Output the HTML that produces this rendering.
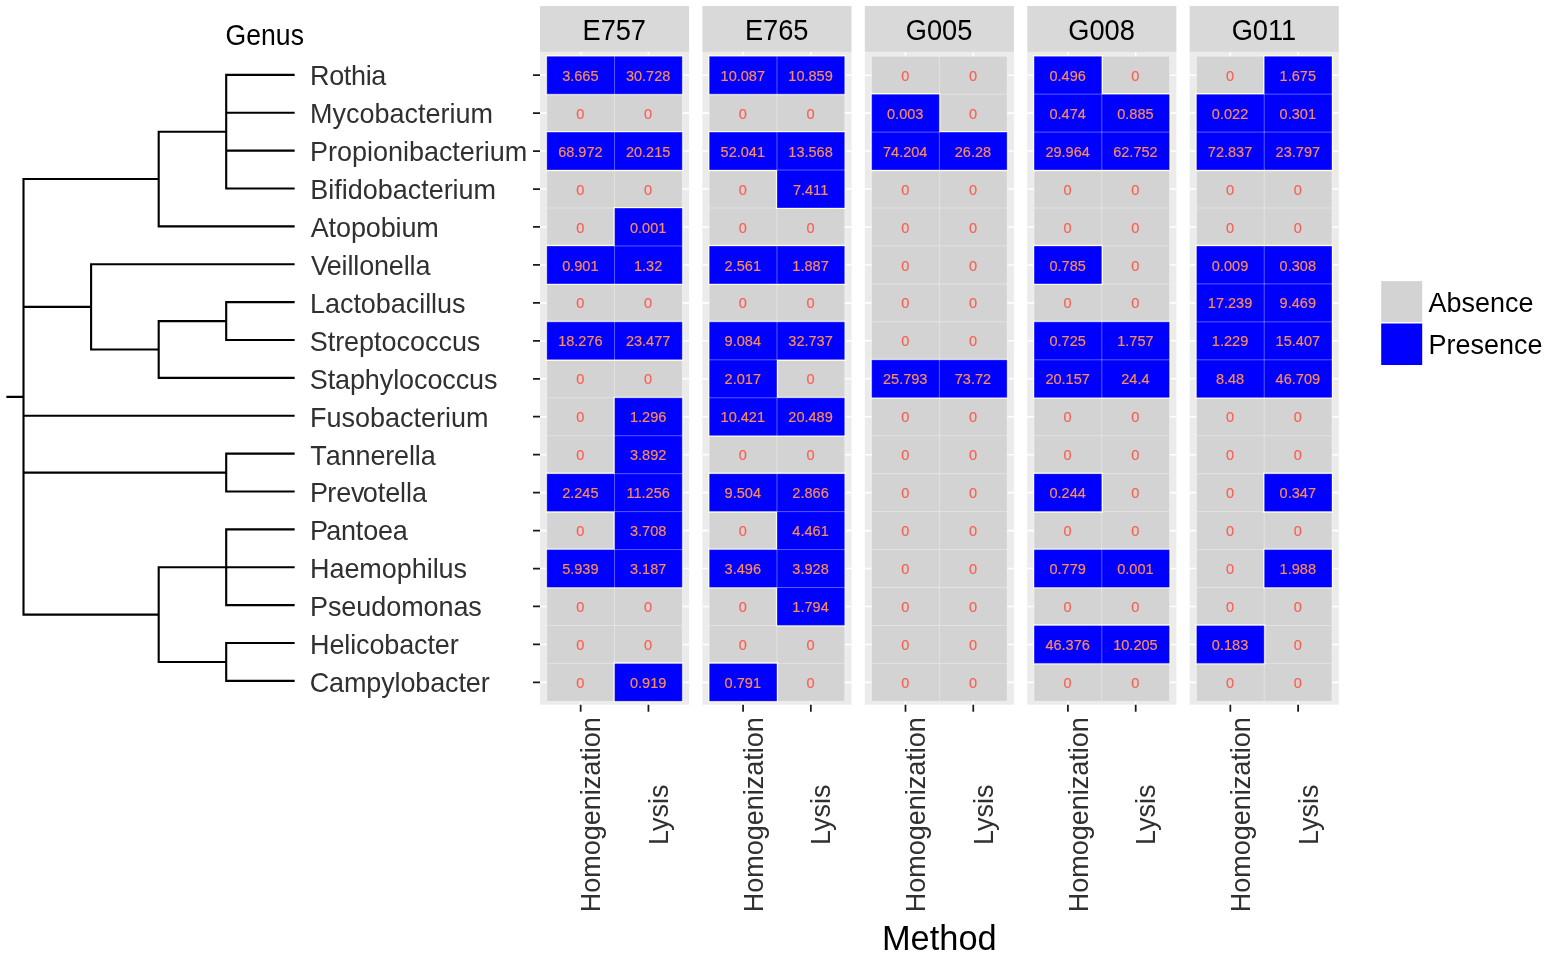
<!DOCTYPE html>
<html lang="en"><head><meta charset="utf-8"><title>Genus presence / absence by method</title>
<style>html,body{margin:0;padding:0;background:#fff}body{width:1547px;height:957px;overflow:hidden}svg{display:block}text{font-family:"Liberation Sans",Arial,Helvetica,sans-serif}.ax{font-size:27.00px;fill:#303030}.st{font-size:27.20px;fill:#000;text-anchor:middle}.tv{font-size:14.55px;fill:#fb5f50;stroke:#fb5f50;stroke-width:.18px;text-anchor:middle}.tb{fill:#ff8c5a;stroke:#ff8c5a}.lg{font-size:26.95px;fill:#000}.tt{font-size:34.40px;fill:#000;text-anchor:middle}.gn{font-size:26.60px;fill:#000}.xl{font-size:27.00px;fill:#303030;text-anchor:middle}</style></head><body>
<svg width="1547" height="957" viewBox="0 0 1547 957">
<rect width="1547" height="957" fill="#fff"/>
<path d="M226.20 74.90L226.20 188.53M226.20 74.90L293.60 74.90M226.20 112.78L293.60 112.78M226.20 150.65L293.60 150.65M226.20 188.53L293.60 188.53M158.70 131.71L226.20 131.71M158.70 226.40L293.60 226.40M158.70 131.71L158.70 226.40M23.50 179.06L158.70 179.06M226.20 302.15L226.20 340.02M226.20 302.15L293.60 302.15M226.20 340.02L293.60 340.02M158.70 321.09L226.20 321.09M158.70 377.90L293.60 377.90M158.70 321.09L158.70 377.90M91.10 264.27L293.60 264.27M91.10 349.49L158.70 349.49M91.10 264.27L91.10 349.49M23.50 306.88L91.10 306.88M23.50 415.77L293.60 415.77M226.20 453.65L226.20 491.52M226.20 453.65L293.60 453.65M226.20 491.52L293.60 491.52M23.50 472.59L226.20 472.59M226.20 529.40L226.20 605.15M226.20 529.40L293.60 529.40M226.20 567.27L293.60 567.27M226.20 605.15L293.60 605.15M226.20 643.02L226.20 680.90M226.20 643.02L293.60 643.02M226.20 680.90L293.60 680.90M158.70 567.27L226.20 567.27M158.70 661.96L226.20 661.96M158.70 567.27L158.70 661.96M23.50 614.62L158.70 614.62M23.50 179.06L23.50 614.62M7.40 396.84L23.50 396.84" fill="none" stroke="#000" stroke-width="2.10" stroke-linecap="square" stroke-linejoin="miter"/>
<text class="gn" transform="translate(225.60 45.10) scale(1 1.080)">Genus</text>
<text class="ax" transform="translate(310.00 85.04) scale(1 1.030)" letter-spacing="-0.335">Rothia</text>
<text class="ax" transform="translate(310.00 122.99) scale(1 1.030)" letter-spacing="0.004">Mycobacterium</text>
<text class="ax" transform="translate(310.00 160.94) scale(1 1.030)" letter-spacing="-0.012">Propionibacterium</text>
<text class="ax" transform="translate(310.25 198.89) scale(1 1.030)" letter-spacing="-0.011">Bifidobacterium</text>
<text class="ax" transform="translate(310.73 236.84) scale(1 1.030)" letter-spacing="-0.113">Atopobium</text>
<text class="ax" transform="translate(310.98 274.79) scale(1 1.030)" letter-spacing="-0.147">V<tspan dx="-2.10">eillonella</tspan></text>
<text class="ax" transform="translate(310.00 312.74) scale(1 1.030)" letter-spacing="-0.041">Lactobacillus</text>
<text class="ax" transform="translate(309.73 350.69) scale(1 1.030)" letter-spacing="-0.030">Streptococcus</text>
<text class="ax" transform="translate(309.73 388.64) scale(1 1.030)" letter-spacing="-0.094">Staphylococcus</text>
<text class="ax" transform="translate(310.00 426.59) scale(1 1.030)" letter-spacing="0.002">Fusobacterium</text>
<text class="ax" transform="translate(310.33 464.54) scale(1 1.030)" letter-spacing="-0.148">T<tspan dx="-0.85">annerella</tspan></text>
<text class="ax" transform="translate(310.00 502.49) scale(1 1.030)" letter-spacing="-0.076">P<tspan dx="-0.70">rev</tspan><tspan dx="-1.70">otella</tspan></text>
<text class="ax" transform="translate(310.00 540.44) scale(1 1.030)" letter-spacing="-0.181">P<tspan dx="-1.60">antoea</tspan></text>
<text class="ax" transform="translate(310.00 578.39) scale(1 1.030)" letter-spacing="-0.043">Haemophilus</text>
<text class="ax" transform="translate(310.00 616.34) scale(1 1.030)" letter-spacing="-0.064">Pseudomonas</text>
<text class="ax" transform="translate(310.00 654.29) scale(1 1.030)" letter-spacing="-0.111">Helicobacter</text>
<text class="ax" transform="translate(309.73 692.24) scale(1 1.030)" letter-spacing="-0.129">Campylobacter</text>
<g>
<rect x="540.00" y="6.00" width="149.10" height="45.90" fill="#d9d9d9"/>
<rect x="540.00" y="51.90" width="149.10" height="652.80" fill="#ebebeb"/>
<path d="M540.00 75.18H689.10M540.00 113.12H689.10M540.00 151.07H689.10M540.00 189.03H689.10M540.00 226.98H689.10M540.00 264.93H689.10M540.00 302.88H689.10M540.00 340.82H689.10M540.00 378.78H689.10M540.00 416.73H689.10M540.00 454.68H689.10M540.00 492.62H689.10M540.00 530.58H689.10M540.00 568.53H689.10M540.00 606.48H689.10M540.00 644.43H689.10M540.00 682.38H689.10M580.66 51.90V704.70M648.44 51.90V704.70" stroke="#fff" stroke-width="1.60" fill="none"/>
<path d="M533.00 75.18H540.00M533.00 113.12H540.00M533.00 151.07H540.00M533.00 189.03H540.00M533.00 226.98H540.00M533.00 264.93H540.00M533.00 302.88H540.00M533.00 340.82H540.00M533.00 378.78H540.00M533.00 416.73H540.00M533.00 454.68H540.00M533.00 492.62H540.00M533.00 530.58H540.00M533.00 568.53H540.00M533.00 606.48H540.00M533.00 644.43H540.00M533.00 682.38H540.00M580.66 704.70V711.70M648.44 704.70V711.70" stroke="#1a1a1a" stroke-width="1.75" fill="none"/>
<text class="st" transform="translate(614.25 39.50) scale(1 1.060)">E757</text>
<path d="M546.78 94.15h67.77v37.95h-67.77zM614.55 94.15h67.77v37.95h-67.77zM546.78 170.05h67.77v37.95h-67.77zM614.55 170.05h67.77v37.95h-67.77zM546.78 208.00h67.77v37.95h-67.77zM546.78 283.90h67.77v37.95h-67.77zM614.55 283.90h67.77v37.95h-67.77zM546.78 359.80h67.77v37.95h-67.77zM614.55 359.80h67.77v37.95h-67.77zM546.78 397.75h67.77v37.95h-67.77zM546.78 435.70h67.77v37.95h-67.77zM546.78 511.60h67.77v37.95h-67.77zM546.78 587.50h67.77v37.95h-67.77zM614.55 587.50h67.77v37.95h-67.77zM546.78 625.45h67.77v37.95h-67.77zM614.55 625.45h67.77v37.95h-67.77zM546.78 663.40h67.77v37.95h-67.77z" fill="#d3d3d3"/>
<path d="M545.68 55.10h69.97v40.15h-69.97zM613.45 55.10h69.97v40.15h-69.97zM545.68 131.00h69.97v40.15h-69.97zM613.45 131.00h69.97v40.15h-69.97zM613.45 206.90h69.97v40.15h-69.97zM545.68 244.85h69.97v40.15h-69.97zM613.45 244.85h69.97v40.15h-69.97zM545.68 320.75h69.97v40.15h-69.97zM613.45 320.75h69.97v40.15h-69.97zM613.45 396.65h69.97v40.15h-69.97zM613.45 434.60h69.97v40.15h-69.97zM545.68 472.55h69.97v40.15h-69.97zM613.45 472.55h69.97v40.15h-69.97zM613.45 510.50h69.97v40.15h-69.97zM545.68 548.45h69.97v40.15h-69.97zM613.45 548.45h69.97v40.15h-69.97zM613.45 662.30h69.97v40.15h-69.97z" fill="#ffffe0"/>
<path d="M546.78 56.20h67.77v37.95h-67.77zM614.55 56.20h67.77v37.95h-67.77zM546.78 132.10h67.77v37.95h-67.77zM614.55 132.10h67.77v37.95h-67.77zM614.55 208.00h67.77v37.95h-67.77zM546.78 245.95h67.77v37.95h-67.77zM614.55 245.95h67.77v37.95h-67.77zM546.78 321.85h67.77v37.95h-67.77zM614.55 321.85h67.77v37.95h-67.77zM614.55 397.75h67.77v37.95h-67.77zM614.55 435.70h67.77v37.95h-67.77zM546.78 473.65h67.77v37.95h-67.77zM614.55 473.65h67.77v37.95h-67.77zM614.55 511.60h67.77v37.95h-67.77zM546.78 549.55h67.77v37.95h-67.77zM614.55 549.55h67.77v37.95h-67.77zM614.55 663.40h67.77v37.95h-67.77z" fill="#0000ff"/>
<path d="M546.78 56.20H682.32M546.78 94.15H682.32M546.78 132.10H682.32M546.78 170.05H682.32M546.78 208.00H682.32M546.78 245.95H682.32M546.78 283.90H682.32M546.78 321.85H682.32M546.78 359.80H682.32M546.78 397.75H682.32M546.78 435.70H682.32M546.78 473.65H682.32M546.78 511.60H682.32M546.78 549.55H682.32M546.78 587.50H682.32M546.78 625.45H682.32M546.78 663.40H682.32M546.78 701.35H682.32M546.78 56.20V701.35M614.55 56.20V701.35M682.32 56.20V701.35" stroke="#fff" stroke-opacity="0.35" stroke-width="1.00" fill="none"/>
<text class="tv tb" transform="translate(580.36 80.78) scale(1 1.050)">3.665</text>
<text class="tv tb" transform="translate(648.14 80.78) scale(1 1.050)">30.728</text>
<text class="tv" transform="translate(580.36 118.73) scale(1 1.050)">0</text>
<text class="tv" transform="translate(648.14 118.73) scale(1 1.050)">0</text>
<text class="tv tb" transform="translate(580.36 156.68) scale(1 1.050)">68.972</text>
<text class="tv tb" transform="translate(648.14 156.68) scale(1 1.050)">20.215</text>
<text class="tv" transform="translate(580.36 194.63) scale(1 1.050)">0</text>
<text class="tv" transform="translate(648.14 194.63) scale(1 1.050)">0</text>
<text class="tv" transform="translate(580.36 232.58) scale(1 1.050)">0</text>
<text class="tv tb" transform="translate(648.14 232.58) scale(1 1.050)">0.001</text>
<text class="tv tb" transform="translate(580.36 270.53) scale(1 1.050)">0.901</text>
<text class="tv tb" transform="translate(648.14 270.53) scale(1 1.050)">1.32</text>
<text class="tv" transform="translate(580.36 308.48) scale(1 1.050)">0</text>
<text class="tv" transform="translate(648.14 308.48) scale(1 1.050)">0</text>
<text class="tv tb" transform="translate(580.36 346.43) scale(1 1.050)">18.276</text>
<text class="tv tb" transform="translate(648.14 346.43) scale(1 1.050)">23.477</text>
<text class="tv" transform="translate(580.36 384.38) scale(1 1.050)">0</text>
<text class="tv" transform="translate(648.14 384.38) scale(1 1.050)">0</text>
<text class="tv" transform="translate(580.36 422.33) scale(1 1.050)">0</text>
<text class="tv tb" transform="translate(648.14 422.33) scale(1 1.050)">1.296</text>
<text class="tv" transform="translate(580.36 460.28) scale(1 1.050)">0</text>
<text class="tv tb" transform="translate(648.14 460.28) scale(1 1.050)">3.892</text>
<text class="tv tb" transform="translate(580.36 498.23) scale(1 1.050)">2.245</text>
<text class="tv tb" transform="translate(648.14 498.23) scale(1 1.050)">11.256</text>
<text class="tv" transform="translate(580.36 536.18) scale(1 1.050)">0</text>
<text class="tv tb" transform="translate(648.14 536.18) scale(1 1.050)">3.708</text>
<text class="tv tb" transform="translate(580.36 574.13) scale(1 1.050)">5.939</text>
<text class="tv tb" transform="translate(648.14 574.13) scale(1 1.050)">3.187</text>
<text class="tv" transform="translate(580.36 612.08) scale(1 1.050)">0</text>
<text class="tv" transform="translate(648.14 612.08) scale(1 1.050)">0</text>
<text class="tv" transform="translate(580.36 650.03) scale(1 1.050)">0</text>
<text class="tv" transform="translate(648.14 650.03) scale(1 1.050)">0</text>
<text class="tv" transform="translate(580.36 687.98) scale(1 1.050)">0</text>
<text class="tv tb" transform="translate(648.14 687.98) scale(1 1.050)">0.919</text>
<text class="xl" transform="translate(600.26 814.80) rotate(-90) scale(1 1.030)">Homogenization</text>
<text class="xl" transform="translate(668.04 814.80) rotate(-90) scale(1 1.030)">Lysis</text>
</g>
<g>
<rect x="702.42" y="6.00" width="149.10" height="45.90" fill="#d9d9d9"/>
<rect x="702.42" y="51.90" width="149.10" height="652.80" fill="#ebebeb"/>
<path d="M702.42 75.18H851.52M702.42 113.12H851.52M702.42 151.07H851.52M702.42 189.03H851.52M702.42 226.98H851.52M702.42 264.93H851.52M702.42 302.88H851.52M702.42 340.82H851.52M702.42 378.78H851.52M702.42 416.73H851.52M702.42 454.68H851.52M702.42 492.62H851.52M702.42 530.58H851.52M702.42 568.53H851.52M702.42 606.48H851.52M702.42 644.43H851.52M702.42 682.38H851.52M743.08 51.90V704.70M810.86 51.90V704.70" stroke="#fff" stroke-width="1.60" fill="none"/>
<path d="M743.08 704.70V711.70M810.86 704.70V711.70" stroke="#1a1a1a" stroke-width="1.75" fill="none"/>
<text class="st" transform="translate(776.67 39.50) scale(1 1.060)">E765</text>
<path d="M709.20 94.15h67.77v37.95h-67.77zM776.97 94.15h67.77v37.95h-67.77zM709.20 170.05h67.77v37.95h-67.77zM709.20 208.00h67.77v37.95h-67.77zM776.97 208.00h67.77v37.95h-67.77zM709.20 283.90h67.77v37.95h-67.77zM776.97 283.90h67.77v37.95h-67.77zM776.97 359.80h67.77v37.95h-67.77zM709.20 435.70h67.77v37.95h-67.77zM776.97 435.70h67.77v37.95h-67.77zM709.20 511.60h67.77v37.95h-67.77zM709.20 587.50h67.77v37.95h-67.77zM709.20 625.45h67.77v37.95h-67.77zM776.97 625.45h67.77v37.95h-67.77zM776.97 663.40h67.77v37.95h-67.77z" fill="#d3d3d3"/>
<path d="M708.10 55.10h69.97v40.15h-69.97zM775.87 55.10h69.97v40.15h-69.97zM708.10 131.00h69.97v40.15h-69.97zM775.87 131.00h69.97v40.15h-69.97zM775.87 168.95h69.97v40.15h-69.97zM708.10 244.85h69.97v40.15h-69.97zM775.87 244.85h69.97v40.15h-69.97zM708.10 320.75h69.97v40.15h-69.97zM775.87 320.75h69.97v40.15h-69.97zM708.10 358.70h69.97v40.15h-69.97zM708.10 396.65h69.97v40.15h-69.97zM775.87 396.65h69.97v40.15h-69.97zM708.10 472.55h69.97v40.15h-69.97zM775.87 472.55h69.97v40.15h-69.97zM775.87 510.50h69.97v40.15h-69.97zM708.10 548.45h69.97v40.15h-69.97zM775.87 548.45h69.97v40.15h-69.97zM775.87 586.40h69.97v40.15h-69.97zM708.10 662.30h69.97v40.15h-69.97z" fill="#ffffe0"/>
<path d="M709.20 56.20h67.77v37.95h-67.77zM776.97 56.20h67.77v37.95h-67.77zM709.20 132.10h67.77v37.95h-67.77zM776.97 132.10h67.77v37.95h-67.77zM776.97 170.05h67.77v37.95h-67.77zM709.20 245.95h67.77v37.95h-67.77zM776.97 245.95h67.77v37.95h-67.77zM709.20 321.85h67.77v37.95h-67.77zM776.97 321.85h67.77v37.95h-67.77zM709.20 359.80h67.77v37.95h-67.77zM709.20 397.75h67.77v37.95h-67.77zM776.97 397.75h67.77v37.95h-67.77zM709.20 473.65h67.77v37.95h-67.77zM776.97 473.65h67.77v37.95h-67.77zM776.97 511.60h67.77v37.95h-67.77zM709.20 549.55h67.77v37.95h-67.77zM776.97 549.55h67.77v37.95h-67.77zM776.97 587.50h67.77v37.95h-67.77zM709.20 663.40h67.77v37.95h-67.77z" fill="#0000ff"/>
<path d="M709.20 56.20H844.74M709.20 94.15H844.74M709.20 132.10H844.74M709.20 170.05H844.74M709.20 208.00H844.74M709.20 245.95H844.74M709.20 283.90H844.74M709.20 321.85H844.74M709.20 359.80H844.74M709.20 397.75H844.74M709.20 435.70H844.74M709.20 473.65H844.74M709.20 511.60H844.74M709.20 549.55H844.74M709.20 587.50H844.74M709.20 625.45H844.74M709.20 663.40H844.74M709.20 701.35H844.74M709.20 56.20V701.35M776.97 56.20V701.35M844.74 56.20V701.35" stroke="#fff" stroke-opacity="0.35" stroke-width="1.00" fill="none"/>
<text class="tv tb" transform="translate(742.78 80.78) scale(1 1.050)">10.087</text>
<text class="tv tb" transform="translate(810.56 80.78) scale(1 1.050)">10.859</text>
<text class="tv" transform="translate(742.78 118.73) scale(1 1.050)">0</text>
<text class="tv" transform="translate(810.56 118.73) scale(1 1.050)">0</text>
<text class="tv tb" transform="translate(742.78 156.68) scale(1 1.050)">52.041</text>
<text class="tv tb" transform="translate(810.56 156.68) scale(1 1.050)">13.568</text>
<text class="tv" transform="translate(742.78 194.63) scale(1 1.050)">0</text>
<text class="tv tb" transform="translate(810.56 194.63) scale(1 1.050)">7.411</text>
<text class="tv" transform="translate(742.78 232.58) scale(1 1.050)">0</text>
<text class="tv" transform="translate(810.56 232.58) scale(1 1.050)">0</text>
<text class="tv tb" transform="translate(742.78 270.53) scale(1 1.050)">2.561</text>
<text class="tv tb" transform="translate(810.56 270.53) scale(1 1.050)">1.887</text>
<text class="tv" transform="translate(742.78 308.48) scale(1 1.050)">0</text>
<text class="tv" transform="translate(810.56 308.48) scale(1 1.050)">0</text>
<text class="tv tb" transform="translate(742.78 346.43) scale(1 1.050)">9.084</text>
<text class="tv tb" transform="translate(810.56 346.43) scale(1 1.050)">32.737</text>
<text class="tv tb" transform="translate(742.78 384.38) scale(1 1.050)">2.017</text>
<text class="tv" transform="translate(810.56 384.38) scale(1 1.050)">0</text>
<text class="tv tb" transform="translate(742.78 422.33) scale(1 1.050)">10.421</text>
<text class="tv tb" transform="translate(810.56 422.33) scale(1 1.050)">20.489</text>
<text class="tv" transform="translate(742.78 460.28) scale(1 1.050)">0</text>
<text class="tv" transform="translate(810.56 460.28) scale(1 1.050)">0</text>
<text class="tv tb" transform="translate(742.78 498.23) scale(1 1.050)">9.504</text>
<text class="tv tb" transform="translate(810.56 498.23) scale(1 1.050)">2.866</text>
<text class="tv" transform="translate(742.78 536.18) scale(1 1.050)">0</text>
<text class="tv tb" transform="translate(810.56 536.18) scale(1 1.050)">4.461</text>
<text class="tv tb" transform="translate(742.78 574.13) scale(1 1.050)">3.496</text>
<text class="tv tb" transform="translate(810.56 574.13) scale(1 1.050)">3.928</text>
<text class="tv" transform="translate(742.78 612.08) scale(1 1.050)">0</text>
<text class="tv tb" transform="translate(810.56 612.08) scale(1 1.050)">1.794</text>
<text class="tv" transform="translate(742.78 650.03) scale(1 1.050)">0</text>
<text class="tv" transform="translate(810.56 650.03) scale(1 1.050)">0</text>
<text class="tv tb" transform="translate(742.78 687.98) scale(1 1.050)">0.791</text>
<text class="tv" transform="translate(810.56 687.98) scale(1 1.050)">0</text>
<text class="xl" transform="translate(762.68 814.80) rotate(-90) scale(1 1.030)">Homogenization</text>
<text class="xl" transform="translate(830.46 814.80) rotate(-90) scale(1 1.030)">Lysis</text>
</g>
<g>
<rect x="864.84" y="6.00" width="149.10" height="45.90" fill="#d9d9d9"/>
<rect x="864.84" y="51.90" width="149.10" height="652.80" fill="#ebebeb"/>
<path d="M864.84 75.18H1013.94M864.84 113.12H1013.94M864.84 151.07H1013.94M864.84 189.03H1013.94M864.84 226.98H1013.94M864.84 264.93H1013.94M864.84 302.88H1013.94M864.84 340.82H1013.94M864.84 378.78H1013.94M864.84 416.73H1013.94M864.84 454.68H1013.94M864.84 492.62H1013.94M864.84 530.58H1013.94M864.84 568.53H1013.94M864.84 606.48H1013.94M864.84 644.43H1013.94M864.84 682.38H1013.94M905.50 51.90V704.70M973.28 51.90V704.70" stroke="#fff" stroke-width="1.60" fill="none"/>
<path d="M905.50 704.70V711.70M973.28 704.70V711.70" stroke="#1a1a1a" stroke-width="1.75" fill="none"/>
<text class="st" transform="translate(939.09 39.50) scale(1 1.060)">G005</text>
<path d="M871.62 56.20h67.77v37.95h-67.77zM939.39 56.20h67.77v37.95h-67.77zM939.39 94.15h67.77v37.95h-67.77zM871.62 170.05h67.77v37.95h-67.77zM939.39 170.05h67.77v37.95h-67.77zM871.62 208.00h67.77v37.95h-67.77zM939.39 208.00h67.77v37.95h-67.77zM871.62 245.95h67.77v37.95h-67.77zM939.39 245.95h67.77v37.95h-67.77zM871.62 283.90h67.77v37.95h-67.77zM939.39 283.90h67.77v37.95h-67.77zM871.62 321.85h67.77v37.95h-67.77zM939.39 321.85h67.77v37.95h-67.77zM871.62 397.75h67.77v37.95h-67.77zM939.39 397.75h67.77v37.95h-67.77zM871.62 435.70h67.77v37.95h-67.77zM939.39 435.70h67.77v37.95h-67.77zM871.62 473.65h67.77v37.95h-67.77zM939.39 473.65h67.77v37.95h-67.77zM871.62 511.60h67.77v37.95h-67.77zM939.39 511.60h67.77v37.95h-67.77zM871.62 549.55h67.77v37.95h-67.77zM939.39 549.55h67.77v37.95h-67.77zM871.62 587.50h67.77v37.95h-67.77zM939.39 587.50h67.77v37.95h-67.77zM871.62 625.45h67.77v37.95h-67.77zM939.39 625.45h67.77v37.95h-67.77zM871.62 663.40h67.77v37.95h-67.77zM939.39 663.40h67.77v37.95h-67.77z" fill="#d3d3d3"/>
<path d="M870.52 93.05h69.97v40.15h-69.97zM870.52 131.00h69.97v40.15h-69.97zM938.29 131.00h69.97v40.15h-69.97zM870.52 358.70h69.97v40.15h-69.97zM938.29 358.70h69.97v40.15h-69.97z" fill="#ffffe0"/>
<path d="M871.62 94.15h67.77v37.95h-67.77zM871.62 132.10h67.77v37.95h-67.77zM939.39 132.10h67.77v37.95h-67.77zM871.62 359.80h67.77v37.95h-67.77zM939.39 359.80h67.77v37.95h-67.77z" fill="#0000ff"/>
<path d="M871.62 56.20H1007.16M871.62 94.15H1007.16M871.62 132.10H1007.16M871.62 170.05H1007.16M871.62 208.00H1007.16M871.62 245.95H1007.16M871.62 283.90H1007.16M871.62 321.85H1007.16M871.62 359.80H1007.16M871.62 397.75H1007.16M871.62 435.70H1007.16M871.62 473.65H1007.16M871.62 511.60H1007.16M871.62 549.55H1007.16M871.62 587.50H1007.16M871.62 625.45H1007.16M871.62 663.40H1007.16M871.62 701.35H1007.16M871.62 56.20V701.35M939.39 56.20V701.35M1007.16 56.20V701.35" stroke="#fff" stroke-opacity="0.35" stroke-width="1.00" fill="none"/>
<text class="tv" transform="translate(905.20 80.78) scale(1 1.050)">0</text>
<text class="tv" transform="translate(972.98 80.78) scale(1 1.050)">0</text>
<text class="tv tb" transform="translate(905.20 118.73) scale(1 1.050)">0.003</text>
<text class="tv" transform="translate(972.98 118.73) scale(1 1.050)">0</text>
<text class="tv tb" transform="translate(905.20 156.68) scale(1 1.050)">74.204</text>
<text class="tv tb" transform="translate(972.98 156.68) scale(1 1.050)">26.28</text>
<text class="tv" transform="translate(905.20 194.63) scale(1 1.050)">0</text>
<text class="tv" transform="translate(972.98 194.63) scale(1 1.050)">0</text>
<text class="tv" transform="translate(905.20 232.58) scale(1 1.050)">0</text>
<text class="tv" transform="translate(972.98 232.58) scale(1 1.050)">0</text>
<text class="tv" transform="translate(905.20 270.53) scale(1 1.050)">0</text>
<text class="tv" transform="translate(972.98 270.53) scale(1 1.050)">0</text>
<text class="tv" transform="translate(905.20 308.48) scale(1 1.050)">0</text>
<text class="tv" transform="translate(972.98 308.48) scale(1 1.050)">0</text>
<text class="tv" transform="translate(905.20 346.43) scale(1 1.050)">0</text>
<text class="tv" transform="translate(972.98 346.43) scale(1 1.050)">0</text>
<text class="tv tb" transform="translate(905.20 384.38) scale(1 1.050)">25.793</text>
<text class="tv tb" transform="translate(972.98 384.38) scale(1 1.050)">73.72</text>
<text class="tv" transform="translate(905.20 422.33) scale(1 1.050)">0</text>
<text class="tv" transform="translate(972.98 422.33) scale(1 1.050)">0</text>
<text class="tv" transform="translate(905.20 460.28) scale(1 1.050)">0</text>
<text class="tv" transform="translate(972.98 460.28) scale(1 1.050)">0</text>
<text class="tv" transform="translate(905.20 498.23) scale(1 1.050)">0</text>
<text class="tv" transform="translate(972.98 498.23) scale(1 1.050)">0</text>
<text class="tv" transform="translate(905.20 536.18) scale(1 1.050)">0</text>
<text class="tv" transform="translate(972.98 536.18) scale(1 1.050)">0</text>
<text class="tv" transform="translate(905.20 574.13) scale(1 1.050)">0</text>
<text class="tv" transform="translate(972.98 574.13) scale(1 1.050)">0</text>
<text class="tv" transform="translate(905.20 612.08) scale(1 1.050)">0</text>
<text class="tv" transform="translate(972.98 612.08) scale(1 1.050)">0</text>
<text class="tv" transform="translate(905.20 650.03) scale(1 1.050)">0</text>
<text class="tv" transform="translate(972.98 650.03) scale(1 1.050)">0</text>
<text class="tv" transform="translate(905.20 687.98) scale(1 1.050)">0</text>
<text class="tv" transform="translate(972.98 687.98) scale(1 1.050)">0</text>
<text class="xl" transform="translate(925.10 814.80) rotate(-90) scale(1 1.030)">Homogenization</text>
<text class="xl" transform="translate(992.88 814.80) rotate(-90) scale(1 1.030)">Lysis</text>
</g>
<g>
<rect x="1027.26" y="6.00" width="149.10" height="45.90" fill="#d9d9d9"/>
<rect x="1027.26" y="51.90" width="149.10" height="652.80" fill="#ebebeb"/>
<path d="M1027.26 75.18H1176.36M1027.26 113.12H1176.36M1027.26 151.07H1176.36M1027.26 189.03H1176.36M1027.26 226.98H1176.36M1027.26 264.93H1176.36M1027.26 302.88H1176.36M1027.26 340.82H1176.36M1027.26 378.78H1176.36M1027.26 416.73H1176.36M1027.26 454.68H1176.36M1027.26 492.62H1176.36M1027.26 530.58H1176.36M1027.26 568.53H1176.36M1027.26 606.48H1176.36M1027.26 644.43H1176.36M1027.26 682.38H1176.36M1067.92 51.90V704.70M1135.70 51.90V704.70" stroke="#fff" stroke-width="1.60" fill="none"/>
<path d="M1067.92 704.70V711.70M1135.70 704.70V711.70" stroke="#1a1a1a" stroke-width="1.75" fill="none"/>
<text class="st" transform="translate(1101.51 39.50) scale(1 1.060)">G008</text>
<path d="M1101.81 56.20h67.77v37.95h-67.77zM1034.04 170.05h67.77v37.95h-67.77zM1101.81 170.05h67.77v37.95h-67.77zM1034.04 208.00h67.77v37.95h-67.77zM1101.81 208.00h67.77v37.95h-67.77zM1101.81 245.95h67.77v37.95h-67.77zM1034.04 283.90h67.77v37.95h-67.77zM1101.81 283.90h67.77v37.95h-67.77zM1034.04 397.75h67.77v37.95h-67.77zM1101.81 397.75h67.77v37.95h-67.77zM1034.04 435.70h67.77v37.95h-67.77zM1101.81 435.70h67.77v37.95h-67.77zM1101.81 473.65h67.77v37.95h-67.77zM1034.04 511.60h67.77v37.95h-67.77zM1101.81 511.60h67.77v37.95h-67.77zM1034.04 587.50h67.77v37.95h-67.77zM1101.81 587.50h67.77v37.95h-67.77zM1034.04 663.40h67.77v37.95h-67.77zM1101.81 663.40h67.77v37.95h-67.77z" fill="#d3d3d3"/>
<path d="M1032.94 55.10h69.97v40.15h-69.97zM1032.94 93.05h69.97v40.15h-69.97zM1100.71 93.05h69.97v40.15h-69.97zM1032.94 131.00h69.97v40.15h-69.97zM1100.71 131.00h69.97v40.15h-69.97zM1032.94 244.85h69.97v40.15h-69.97zM1032.94 320.75h69.97v40.15h-69.97zM1100.71 320.75h69.97v40.15h-69.97zM1032.94 358.70h69.97v40.15h-69.97zM1100.71 358.70h69.97v40.15h-69.97zM1032.94 472.55h69.97v40.15h-69.97zM1032.94 548.45h69.97v40.15h-69.97zM1100.71 548.45h69.97v40.15h-69.97zM1032.94 624.35h69.97v40.15h-69.97zM1100.71 624.35h69.97v40.15h-69.97z" fill="#ffffe0"/>
<path d="M1034.04 56.20h67.77v37.95h-67.77zM1034.04 94.15h67.77v37.95h-67.77zM1101.81 94.15h67.77v37.95h-67.77zM1034.04 132.10h67.77v37.95h-67.77zM1101.81 132.10h67.77v37.95h-67.77zM1034.04 245.95h67.77v37.95h-67.77zM1034.04 321.85h67.77v37.95h-67.77zM1101.81 321.85h67.77v37.95h-67.77zM1034.04 359.80h67.77v37.95h-67.77zM1101.81 359.80h67.77v37.95h-67.77zM1034.04 473.65h67.77v37.95h-67.77zM1034.04 549.55h67.77v37.95h-67.77zM1101.81 549.55h67.77v37.95h-67.77zM1034.04 625.45h67.77v37.95h-67.77zM1101.81 625.45h67.77v37.95h-67.77z" fill="#0000ff"/>
<path d="M1034.04 56.20H1169.58M1034.04 94.15H1169.58M1034.04 132.10H1169.58M1034.04 170.05H1169.58M1034.04 208.00H1169.58M1034.04 245.95H1169.58M1034.04 283.90H1169.58M1034.04 321.85H1169.58M1034.04 359.80H1169.58M1034.04 397.75H1169.58M1034.04 435.70H1169.58M1034.04 473.65H1169.58M1034.04 511.60H1169.58M1034.04 549.55H1169.58M1034.04 587.50H1169.58M1034.04 625.45H1169.58M1034.04 663.40H1169.58M1034.04 701.35H1169.58M1034.04 56.20V701.35M1101.81 56.20V701.35M1169.58 56.20V701.35" stroke="#fff" stroke-opacity="0.35" stroke-width="1.00" fill="none"/>
<text class="tv tb" transform="translate(1067.62 80.78) scale(1 1.050)">0.496</text>
<text class="tv" transform="translate(1135.40 80.78) scale(1 1.050)">0</text>
<text class="tv tb" transform="translate(1067.62 118.73) scale(1 1.050)">0.474</text>
<text class="tv tb" transform="translate(1135.40 118.73) scale(1 1.050)">0.885</text>
<text class="tv tb" transform="translate(1067.62 156.68) scale(1 1.050)">29.964</text>
<text class="tv tb" transform="translate(1135.40 156.68) scale(1 1.050)">62.752</text>
<text class="tv" transform="translate(1067.62 194.63) scale(1 1.050)">0</text>
<text class="tv" transform="translate(1135.40 194.63) scale(1 1.050)">0</text>
<text class="tv" transform="translate(1067.62 232.58) scale(1 1.050)">0</text>
<text class="tv" transform="translate(1135.40 232.58) scale(1 1.050)">0</text>
<text class="tv tb" transform="translate(1067.62 270.53) scale(1 1.050)">0.785</text>
<text class="tv" transform="translate(1135.40 270.53) scale(1 1.050)">0</text>
<text class="tv" transform="translate(1067.62 308.48) scale(1 1.050)">0</text>
<text class="tv" transform="translate(1135.40 308.48) scale(1 1.050)">0</text>
<text class="tv tb" transform="translate(1067.62 346.43) scale(1 1.050)">0.725</text>
<text class="tv tb" transform="translate(1135.40 346.43) scale(1 1.050)">1.757</text>
<text class="tv tb" transform="translate(1067.62 384.38) scale(1 1.050)">20.157</text>
<text class="tv tb" transform="translate(1135.40 384.38) scale(1 1.050)">24.4</text>
<text class="tv" transform="translate(1067.62 422.33) scale(1 1.050)">0</text>
<text class="tv" transform="translate(1135.40 422.33) scale(1 1.050)">0</text>
<text class="tv" transform="translate(1067.62 460.28) scale(1 1.050)">0</text>
<text class="tv" transform="translate(1135.40 460.28) scale(1 1.050)">0</text>
<text class="tv tb" transform="translate(1067.62 498.23) scale(1 1.050)">0.244</text>
<text class="tv" transform="translate(1135.40 498.23) scale(1 1.050)">0</text>
<text class="tv" transform="translate(1067.62 536.18) scale(1 1.050)">0</text>
<text class="tv" transform="translate(1135.40 536.18) scale(1 1.050)">0</text>
<text class="tv tb" transform="translate(1067.62 574.13) scale(1 1.050)">0.779</text>
<text class="tv tb" transform="translate(1135.40 574.13) scale(1 1.050)">0.001</text>
<text class="tv" transform="translate(1067.62 612.08) scale(1 1.050)">0</text>
<text class="tv" transform="translate(1135.40 612.08) scale(1 1.050)">0</text>
<text class="tv tb" transform="translate(1067.62 650.03) scale(1 1.050)">46.376</text>
<text class="tv tb" transform="translate(1135.40 650.03) scale(1 1.050)">10.205</text>
<text class="tv" transform="translate(1067.62 687.98) scale(1 1.050)">0</text>
<text class="tv" transform="translate(1135.40 687.98) scale(1 1.050)">0</text>
<text class="xl" transform="translate(1087.52 814.80) rotate(-90) scale(1 1.030)">Homogenization</text>
<text class="xl" transform="translate(1155.30 814.80) rotate(-90) scale(1 1.030)">Lysis</text>
</g>
<g>
<rect x="1189.68" y="6.00" width="149.10" height="45.90" fill="#d9d9d9"/>
<rect x="1189.68" y="51.90" width="149.10" height="652.80" fill="#ebebeb"/>
<path d="M1189.68 75.18H1338.78M1189.68 113.12H1338.78M1189.68 151.07H1338.78M1189.68 189.03H1338.78M1189.68 226.98H1338.78M1189.68 264.93H1338.78M1189.68 302.88H1338.78M1189.68 340.82H1338.78M1189.68 378.78H1338.78M1189.68 416.73H1338.78M1189.68 454.68H1338.78M1189.68 492.62H1338.78M1189.68 530.58H1338.78M1189.68 568.53H1338.78M1189.68 606.48H1338.78M1189.68 644.43H1338.78M1189.68 682.38H1338.78M1230.34 51.90V704.70M1298.12 51.90V704.70" stroke="#fff" stroke-width="1.60" fill="none"/>
<path d="M1230.34 704.70V711.70M1298.12 704.70V711.70" stroke="#1a1a1a" stroke-width="1.75" fill="none"/>
<text class="st" transform="translate(1263.93 39.50) scale(1 1.060)">G011</text>
<path d="M1196.46 56.20h67.77v37.95h-67.77zM1196.46 170.05h67.77v37.95h-67.77zM1264.23 170.05h67.77v37.95h-67.77zM1196.46 208.00h67.77v37.95h-67.77zM1264.23 208.00h67.77v37.95h-67.77zM1196.46 397.75h67.77v37.95h-67.77zM1264.23 397.75h67.77v37.95h-67.77zM1196.46 435.70h67.77v37.95h-67.77zM1264.23 435.70h67.77v37.95h-67.77zM1196.46 473.65h67.77v37.95h-67.77zM1196.46 511.60h67.77v37.95h-67.77zM1264.23 511.60h67.77v37.95h-67.77zM1196.46 549.55h67.77v37.95h-67.77zM1196.46 587.50h67.77v37.95h-67.77zM1264.23 587.50h67.77v37.95h-67.77zM1264.23 625.45h67.77v37.95h-67.77zM1196.46 663.40h67.77v37.95h-67.77zM1264.23 663.40h67.77v37.95h-67.77z" fill="#d3d3d3"/>
<path d="M1263.13 55.10h69.97v40.15h-69.97zM1195.36 93.05h69.97v40.15h-69.97zM1263.13 93.05h69.97v40.15h-69.97zM1195.36 131.00h69.97v40.15h-69.97zM1263.13 131.00h69.97v40.15h-69.97zM1195.36 244.85h69.97v40.15h-69.97zM1263.13 244.85h69.97v40.15h-69.97zM1195.36 282.80h69.97v40.15h-69.97zM1263.13 282.80h69.97v40.15h-69.97zM1195.36 320.75h69.97v40.15h-69.97zM1263.13 320.75h69.97v40.15h-69.97zM1195.36 358.70h69.97v40.15h-69.97zM1263.13 358.70h69.97v40.15h-69.97zM1263.13 472.55h69.97v40.15h-69.97zM1263.13 548.45h69.97v40.15h-69.97zM1195.36 624.35h69.97v40.15h-69.97z" fill="#ffffe0"/>
<path d="M1264.23 56.20h67.77v37.95h-67.77zM1196.46 94.15h67.77v37.95h-67.77zM1264.23 94.15h67.77v37.95h-67.77zM1196.46 132.10h67.77v37.95h-67.77zM1264.23 132.10h67.77v37.95h-67.77zM1196.46 245.95h67.77v37.95h-67.77zM1264.23 245.95h67.77v37.95h-67.77zM1196.46 283.90h67.77v37.95h-67.77zM1264.23 283.90h67.77v37.95h-67.77zM1196.46 321.85h67.77v37.95h-67.77zM1264.23 321.85h67.77v37.95h-67.77zM1196.46 359.80h67.77v37.95h-67.77zM1264.23 359.80h67.77v37.95h-67.77zM1264.23 473.65h67.77v37.95h-67.77zM1264.23 549.55h67.77v37.95h-67.77zM1196.46 625.45h67.77v37.95h-67.77z" fill="#0000ff"/>
<path d="M1196.46 56.20H1332.00M1196.46 94.15H1332.00M1196.46 132.10H1332.00M1196.46 170.05H1332.00M1196.46 208.00H1332.00M1196.46 245.95H1332.00M1196.46 283.90H1332.00M1196.46 321.85H1332.00M1196.46 359.80H1332.00M1196.46 397.75H1332.00M1196.46 435.70H1332.00M1196.46 473.65H1332.00M1196.46 511.60H1332.00M1196.46 549.55H1332.00M1196.46 587.50H1332.00M1196.46 625.45H1332.00M1196.46 663.40H1332.00M1196.46 701.35H1332.00M1196.46 56.20V701.35M1264.23 56.20V701.35M1332.00 56.20V701.35" stroke="#fff" stroke-opacity="0.35" stroke-width="1.00" fill="none"/>
<text class="tv" transform="translate(1230.04 80.78) scale(1 1.050)">0</text>
<text class="tv tb" transform="translate(1297.82 80.78) scale(1 1.050)">1.675</text>
<text class="tv tb" transform="translate(1230.04 118.73) scale(1 1.050)">0.022</text>
<text class="tv tb" transform="translate(1297.82 118.73) scale(1 1.050)">0.301</text>
<text class="tv tb" transform="translate(1230.04 156.68) scale(1 1.050)">72.837</text>
<text class="tv tb" transform="translate(1297.82 156.68) scale(1 1.050)">23.797</text>
<text class="tv" transform="translate(1230.04 194.63) scale(1 1.050)">0</text>
<text class="tv" transform="translate(1297.82 194.63) scale(1 1.050)">0</text>
<text class="tv" transform="translate(1230.04 232.58) scale(1 1.050)">0</text>
<text class="tv" transform="translate(1297.82 232.58) scale(1 1.050)">0</text>
<text class="tv tb" transform="translate(1230.04 270.53) scale(1 1.050)">0.009</text>
<text class="tv tb" transform="translate(1297.82 270.53) scale(1 1.050)">0.308</text>
<text class="tv tb" transform="translate(1230.04 308.48) scale(1 1.050)">17.239</text>
<text class="tv tb" transform="translate(1297.82 308.48) scale(1 1.050)">9.469</text>
<text class="tv tb" transform="translate(1230.04 346.43) scale(1 1.050)">1.229</text>
<text class="tv tb" transform="translate(1297.82 346.43) scale(1 1.050)">15.407</text>
<text class="tv tb" transform="translate(1230.04 384.38) scale(1 1.050)">8.48</text>
<text class="tv tb" transform="translate(1297.82 384.38) scale(1 1.050)">46.709</text>
<text class="tv" transform="translate(1230.04 422.33) scale(1 1.050)">0</text>
<text class="tv" transform="translate(1297.82 422.33) scale(1 1.050)">0</text>
<text class="tv" transform="translate(1230.04 460.28) scale(1 1.050)">0</text>
<text class="tv" transform="translate(1297.82 460.28) scale(1 1.050)">0</text>
<text class="tv" transform="translate(1230.04 498.23) scale(1 1.050)">0</text>
<text class="tv tb" transform="translate(1297.82 498.23) scale(1 1.050)">0.347</text>
<text class="tv" transform="translate(1230.04 536.18) scale(1 1.050)">0</text>
<text class="tv" transform="translate(1297.82 536.18) scale(1 1.050)">0</text>
<text class="tv" transform="translate(1230.04 574.13) scale(1 1.050)">0</text>
<text class="tv tb" transform="translate(1297.82 574.13) scale(1 1.050)">1.988</text>
<text class="tv" transform="translate(1230.04 612.08) scale(1 1.050)">0</text>
<text class="tv" transform="translate(1297.82 612.08) scale(1 1.050)">0</text>
<text class="tv tb" transform="translate(1230.04 650.03) scale(1 1.050)">0.183</text>
<text class="tv" transform="translate(1297.82 650.03) scale(1 1.050)">0</text>
<text class="tv" transform="translate(1230.04 687.98) scale(1 1.050)">0</text>
<text class="tv" transform="translate(1297.82 687.98) scale(1 1.050)">0</text>
<text class="xl" transform="translate(1249.94 814.80) rotate(-90) scale(1 1.030)">Homogenization</text>
<text class="xl" transform="translate(1317.72 814.80) rotate(-90) scale(1 1.030)">Lysis</text>
</g>
<text class="tt" transform="translate(939.30 949.90) scale(1 1.030)">Method</text>
<rect x="1381.20" y="281.10" width="41.00" height="40.90" fill="#d3d3d3"/>
<rect x="1381.20" y="323.50" width="41.00" height="41.50" fill="#0000ff"/>
<text class="lg" transform="translate(1428.60 311.60) scale(1 1.030)">Absence</text>
<text class="lg" transform="translate(1428.60 353.50) scale(1 1.030)">Presence</text>
</svg></body></html>
